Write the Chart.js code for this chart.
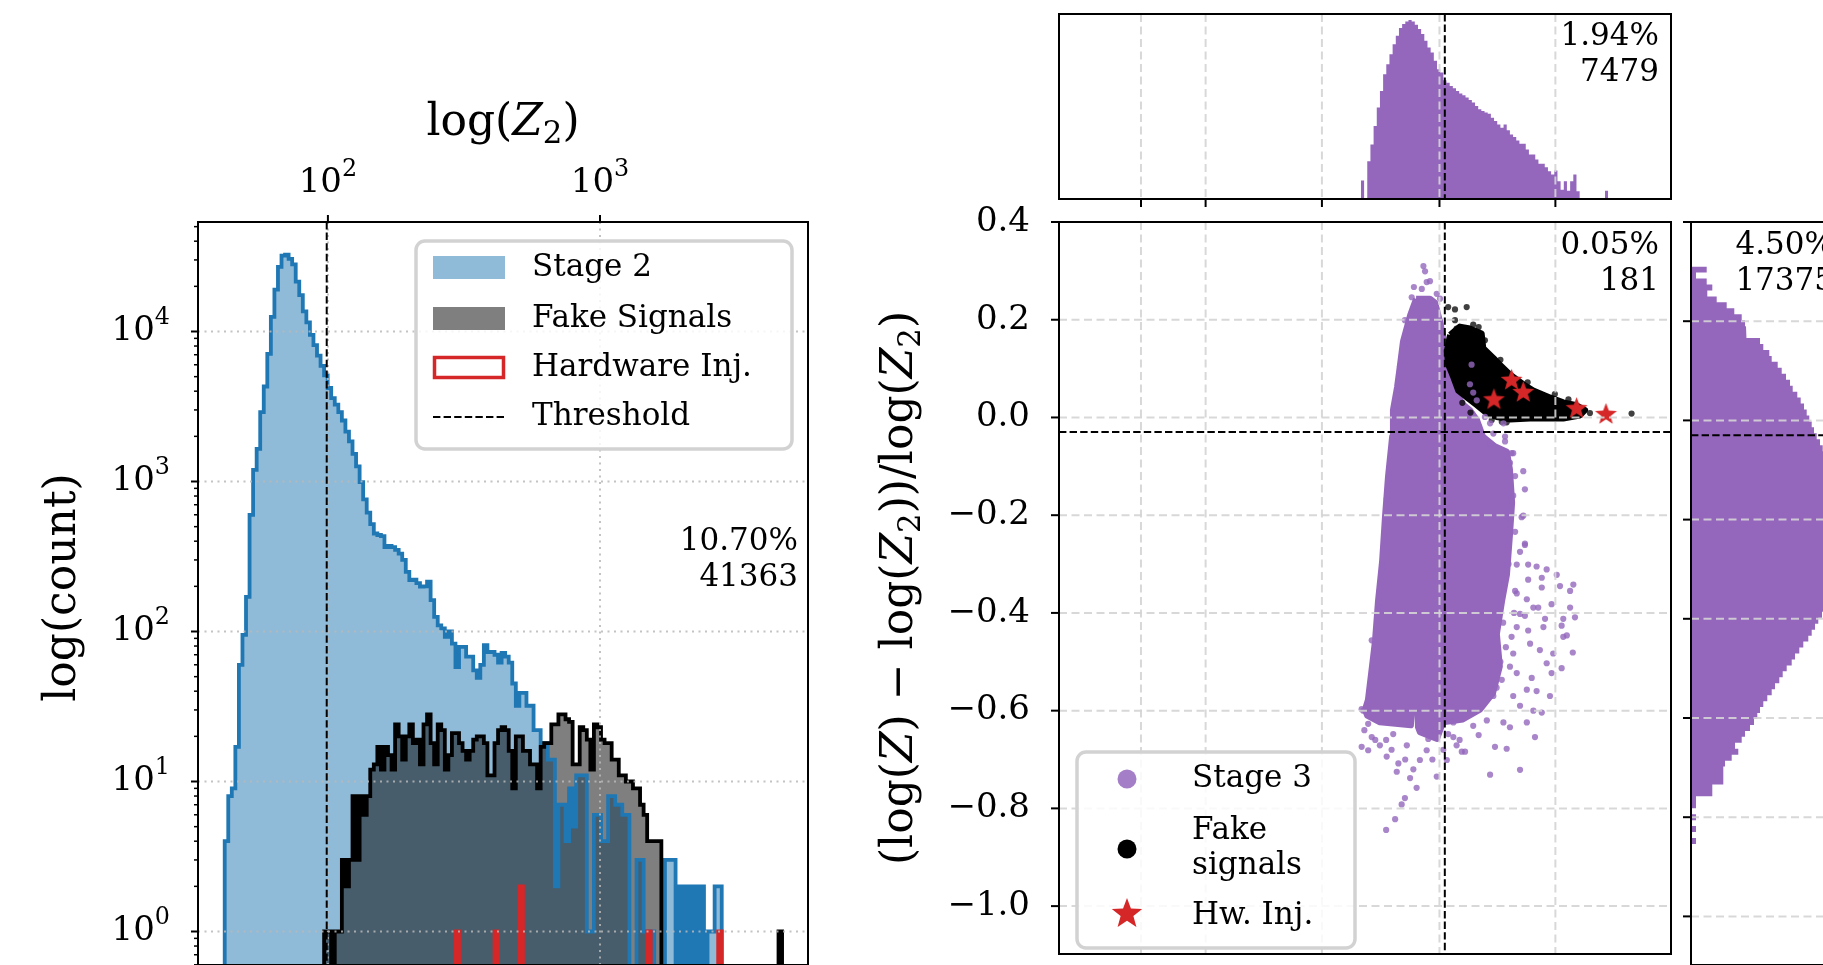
<!DOCTYPE html>
<html>
<head>
<meta charset="utf-8">
<script src="https://cdn.jsdelivr.net/npm/chart.js@4.4.1/dist/chart.umd.min.js"></script>
<style>
  html, body { margin: 0; padding: 0; background: #fff; overflow: hidden; }
  canvas { position: absolute; left: 0; top: 0; }
</style>
</head>
<body>
<canvas id="hist" width="1823" height="965"></canvas>
<canvas id="top" width="1823" height="965"></canvas>
<canvas id="main" width="1823" height="965"></canvas>
<canvas id="side" width="1900" height="965"></canvas>
<script>
// ---------------- data ----------------
const threshold = 99;          // log(Z2) cut
const ratioThreshold = -0.03;  // (logZ - logZ2)/logZ2 cut

// left panel: log-spaced bins of log(Z2)
const binStart = 1.62073;      // log10 of first bin edge
const binWidth = 0.013047;     // bin width in log10
const stage2Counts = [
  4, 8, 9, 17, 60, 95, 170, 600, 1194, 1650,
  2900, 4300, 7100, 12500, 19000, 27000, 32000, 32500, 30500, 28000,
  21500, 17500, 13600, 11500, 9500, 8100, 6900, 5900, 5100, 4200,
  3600, 3250, 2900, 2550, 2150, 1850, 1530, 1260, 990, 760,
  620, 520, 450, 440, 432, 366, 372, 365, 350, 330,
  300, 250, 220, 222, 210, 199, 200, 215, 162, 125,
  110, 105, 92, 100, 83, 58, 79, 79, 68, 68,
  55, 49, 60, 81, 73, 73, 70, 62, 72, 68,
  62, 45, 32, 39, 39, 32, 32, 22, 22, 18,
  18, 14, 14, 2, 7, 7, 4, 9, 5, 11,
  11, 11, 1, 1, 6, 6, 4, 4, 8, 8,
  7, 7, 6, 6, 0, 0, 3, 3, 1, 1,
  1, 0, 0, 0, 3, 3, 3, 0, 2, 0,
  2, 0, 2, 0, 2, 0, 1, 1, 2, 2
];
const fakeCounts = [
  0, 0, 0, 0, 0, 0, 0, 0, 0, 0,
  0, 0, 0, 0, 0, 0, 0, 0, 0, 0,
  0, 0, 0, 0, 0, 0, 0, 0, 1, 1,
  0, 1, 1, 3, 2, 3, 8, 3, 8, 6,
  8, 12, 13, 17, 12, 17, 15, 12, 24, 20,
  14, 20, 24, 18, 19, 13, 24, 28, 18, 13,
  24, 22, 12, 15, 21, 21, 18, 16, 14, 16,
  19, 20, 20, 18, 11, 11, 18, 22, 23, 22,
  16, 9, 20, 20, 16, 16, 13, 13, 9, 17,
  18, 18, 24, 24, 28, 28, 26, 25, 13, 13,
  23, 22, 19, 12, 24, 23, 19, 18, 18, 14,
  14, 11, 11, 10, 10, 9, 9, 7, 6, 4,
  4, 4, 4, 0, 0, 0, 0, 0, 0, 0,
  0, 0, 0, 0, 0, 0, 0, 0, 0, 0,
  0, 0, 0, 0, 0, 0, 0, 0, 0, 0,
  0, 0, 0, 0, 0, 0, 1
];
const hwBins = [65, 76, 83, 119, 139];
const hwCounts = [1, 1, 2, 1, 1];
const histXTicks = [100, 1000];
const histYTicks = [1, 10, 100, 1000, 10000];
const histStats = ['10.70%', '41363'];

// right panels: x is log10 log(Z2)
const topBinStart = 1.6873;
const topBinWidth = 0.01165;
const stage3TopCounts = [
  500, 0, 1020, 1475, 1970, 2470, 2920, 3370, 3645, 3915,
  4185, 4410, 4620, 4730, 4800, 4835, 4800, 4710, 4595, 4460,
  4275, 4095, 3960, 3735, 3510, 3420, 3210, 3145, 3055, 2995,
  2920, 2850, 2805, 2740, 2675, 2605, 2515, 2425, 2380, 2335,
  2305, 2195, 2105, 2015, 1925, 2015, 1855, 1745, 1675, 1580,
  1490, 1490, 1340, 1205, 1205, 1065, 950, 950, 860, 750,
  660, 770, 480, 250, 480, 225, 480, 660, 210, 0,
  0, 0, 0, 0, 0, 0, 0, 225
];
const sideBinTop = 0.310;
const sideBinHeight = 0.012;
const stage3SideCounts = [
  157, 50, 157, 213, 163, 257, 357, 433, 507, 540,
  550, 557, 690, 723, 783, 807, 867, 907, 950, 990,
  1017, 1063, 1097, 1130, 1157, 1183, 1207, 1230, 1257, 1290,
  1317, 1340, 1360, 1380, 1400, 1415, 1430, 1440, 1450, 1460,
  1468, 1474, 1478, 1480, 1480, 1478, 1474, 1468, 1460, 1450,
  1440, 1428, 1415, 1400, 1390, 1375, 1360, 1345, 1310, 1273,
  1240, 1207, 1173, 1123, 1083, 1040, 1007, 957, 917, 883,
  840, 807, 763, 723, 690, 663, 630, 590, 540, 507,
  440, 473, 407, 340, 323, 323, 323, 213, 213, 50,
  50, 0, 50, 0, 50, 0, 50
];
const gridX = [0.879, 1.1165, 1.544, 1.976, 2.402];
const ratioTicks = [0.4, 0.2, 0.0, -0.2, -0.4, -0.6, -0.8, -1.0];
const ratioLabels = ['0.4', '0.2', '0.0', '\u22120.2', '\u22120.4', '\u22120.6', '\u22120.8', '\u22121.0'];

// dense part of the Stage 3 cloud (outline) and the scattered points around it
const stage3Core = [
  [1.890, 0.243], [1.941, 0.243], [1.960, 0.235], [1.978, 0.197], [2.003, 0.129], [2.026, 0.062],
  [2.062, 0.027], [2.088, 0.015], [2.114, -0.005], [2.136, -0.039], [2.180, -0.059], [2.224, -0.070],
  [2.235, -0.106], [2.243, -0.174], [2.235, -0.241], [2.224, -0.322], [2.206, -0.376], [2.187, -0.443],
  [2.198, -0.509], [2.173, -0.564], [2.125, -0.598], [2.062, -0.618], [1.989, -0.624], [1.967, -0.658],
  [1.904, -0.644], [1.897, -0.634], [1.893, -0.564], [1.879, -0.564], [1.871, -0.630], [1.757, -0.624],
  [1.710, -0.610], [1.702, -0.598], [1.713, -0.578], [1.728, -0.509], [1.739, -0.457], [1.750, -0.376],
  [1.765, -0.295], [1.776, -0.201], [1.787, -0.120], [1.802, -0.039], [1.805, 0.015], [1.820, 0.062],
  [1.831, 0.108], [1.842, 0.156], [1.868, 0.209]
];
const stage3Points = [
  [1.917, 0.310], [1.923, 0.299], [1.941, 0.279], [1.929, 0.277], [1.882, 0.267], [1.911, 0.263],
  [1.874, 0.246], [1.966, 0.253], [1.978, 0.243], [1.953, 0.229], [1.849, 0.199], [1.966, 0.199],
  [1.856, 0.152], [1.831, 0.105], [1.825, 0.058], [1.813, 0.018], [2.094, 0.108], [2.088, 0.068],
  [2.100, 0.051], [2.113, 0.035], [2.143, 0.001], [2.162, -0.012], [2.211, -0.012], [2.174, -0.033],
  [2.217, -0.039], [2.241, -0.073], [2.162, -0.053], [2.247, -0.073], [2.284, -0.110], [2.290, -0.147],
  [2.278, -0.204], [2.290, -0.258], [2.302, -0.301], [2.333, -0.305], [2.370, -0.311], [2.407, -0.322],
  [2.468, -0.342], [2.456, -0.355], [2.419, -0.345], [2.352, -0.328], [2.352, -0.348], [2.302, -0.332],
  [2.388, -0.382], [2.456, -0.389], [2.474, -0.409], [2.431, -0.412], [2.425, -0.426], [2.444, -0.446],
  [2.431, -0.449], [2.364, -0.412], [2.358, -0.429], [2.321, -0.389], [2.339, -0.389], [2.297, -0.372],
  [2.290, -0.406], [2.302, -0.436], [2.309, -0.463], [2.345, -0.476], [2.394, -0.483], [2.466, -0.481],
  [2.370, -0.503], [2.425, -0.513], [2.388, -0.523], [2.315, -0.533], [2.333, -0.560], [2.382, -0.570],
  [2.297, -0.557], [2.260, -0.523], [2.247, -0.570], [2.272, -0.590], [2.321, -0.600], [2.352, -0.604],
  [2.297, -0.624], [2.235, -0.634], [2.211, -0.624], [2.327, -0.654], [2.180, -0.674], [2.223, -0.678],
  [2.162, -0.731], [2.272, -0.721], [2.100, -0.631], [2.058, -0.684], [2.027, -0.654], [2.003, -0.701],
  [1.966, -0.735], [1.892, -0.758], [1.849, -0.779], [1.837, -0.792], [1.813, -0.822], [1.780, -0.844],
  [1.868, -0.738], [1.819, -0.725], [1.825, -0.708], [1.782, -0.694], [1.757, -0.671], [1.714, -0.681],
  [1.690, -0.674], [1.727, -0.654], [1.714, -0.627], [1.696, -0.600], [1.806, -0.648], [1.856, -0.671],
  [1.904, -0.701], [1.929, -0.681], [1.935, -0.658], [2.039, -0.671], [2.070, -0.684], [2.027, -0.624],
  [2.100, -0.600], [2.008, -0.648], [2.174, -0.570], [2.186, -0.553], [2.205, -0.537], [2.235, -0.510],
  [2.247, -0.483], [2.241, -0.449], [2.260, -0.429], [2.272, -0.402], [2.254, -0.355], [2.260, -0.301],
  [2.290, -0.261], [2.272, -0.275], [2.254, -0.234], [2.284, -0.201], [2.247, -0.160], [2.254, -0.120],
  [2.235, -0.093], [2.217, -0.049], [1.690, -0.597], [1.727, -0.456], [1.757, -0.389], [1.770, -0.308],
  [1.782, -0.167], [1.700, -0.640], [1.740, -0.660], [1.780, -0.660], [1.800, -0.680], [1.850, -0.700],
  [1.880, -0.720], [1.950, -0.700], [1.990, -0.680], [2.050, -0.660], [2.120, -0.650], [2.150, -0.620],
  [2.220, -0.200], [2.230, -0.300], [2.210, -0.420], [2.220, -0.470], [2.200, -0.500], [2.250, -0.400],
  [2.260, -0.360]
];
const fakeCore = [
  [2.015, 0.169], [2.051, 0.186], [2.088, 0.182], [2.131, 0.172], [2.137, 0.142], [2.174, 0.122],
  [2.198, 0.108], [2.235, 0.088], [2.284, 0.068], [2.321, 0.055], [2.382, 0.041], [2.431, 0.031],
  [2.480, 0.025], [2.511, 0.015], [2.492, 0.004], [2.431, -0.002], [2.370, -0.002], [2.309, -0.002],
  [2.235, -0.004], [2.186, 0.001], [2.150, 0.008], [2.113, 0.025], [2.076, 0.041], [2.045, 0.055],
  [2.027, 0.082], [2.008, 0.108], [2.003, 0.136]
];
const fakePoints = [
  [2.008, 0.226], [2.033, 0.221], [2.076, 0.226], [2.033, 0.199], [2.039, 0.182], [2.682, 0.008],
  [2.205, -0.009], [2.168, -0.005], [2.223, -0.010], [2.143, 0.158], [2.272, 0.062], [2.529, 0.009],
  [2.015, 0.151], [2.100, 0.190], [2.120, 0.185], [2.300, 0.072], [2.400, 0.048], [2.450, 0.037],
  [2.200, 0.118], [2.060, 0.030], [2.090, 0.010]
];
const hwPoints = [[2.241, 0.076], [2.284, 0.051], [2.176, 0.036], [2.480, 0.018], [2.588, 0.006]];
const topStats = ['1.94%', '7479'];
const mainStats = ['0.05%', '181'];
const sideStats = ['4.50%', '17375'];

// ---------------- helpers ----------------
const FONT = '"DejaVu Serif"';
const C_BLUE = '#1f77b4', C_RED = '#d62728', C_PURPLE = '#9467bd';
Chart.defaults.font.family = FONT;

function stepPoints(edges, counts, floor) {
  const pts = [{x: edges[0], y: floor}];
  counts.forEach((c, k) => {
    const v = c > 0 ? c : floor;
    pts.push({x: edges[k], y: v}, {x: edges[k + 1], y: v});
  });
  pts.push({x: edges[counts.length], y: floor});
  return pts;
}
const toXY = arr => arr.map(p => ({x: p[0], y: p[1]}));
const closed = arr => toXY(arr.concat([arr[0]]));

function line(ctx, x1, y1, x2, y2) { ctx.beginPath(); ctx.moveTo(x1, y1); ctx.lineTo(x2, y2); ctx.stroke(); }
function styled(ctx, color, width, dash) { ctx.strokeStyle = color; ctx.lineWidth = width; ctx.setLineDash(dash || []); }

function runFont(r, size) {
  const s = (r.sub || r.sup) ? size * 0.7 : size;
  return (r.it ? 'italic ' : '') + s + 'px ' + FONT;
}
function drawRuns(ctx, runs, x, y, align, size) {
  let w = 0;
  const ws = runs.map(r => { ctx.font = runFont(r, size); const m = ctx.measureText(r.t).width; w += m; return m; });
  let cx = align === 'right' ? x - w : align === 'center' ? x - w / 2 : x;
  ctx.textAlign = 'left';
  ctx.textBaseline = 'middle';
  ctx.fillStyle = '#000';
  runs.forEach((r, i) => {
    ctx.font = runFont(r, size);
    const dy = r.sub ? size * 0.24 : r.sup ? -size * 0.4 : 0;
    ctx.fillText(r.t, cx, y + dy);
    cx += ws[i];
  });
}
function text(ctx, s, x, y, align, size) { drawRuns(ctx, [{t: s}], x, y, align, size); }

function starPath(g, cx, cy, R, r) {
  g.beginPath();
  for (let i = 0; i < 10; i++) {
    const a = -Math.PI / 2 + i * Math.PI / 5;
    const rr = i % 2 ? r : R;
    g.lineTo(cx + rr * Math.cos(a), cy + rr * Math.sin(a));
  }
  g.closePath();
}
function starCanvas(R, color) {
  const c = document.createElement('canvas');
  c.width = c.height = Math.ceil(2 * R + 2);
  const g = c.getContext('2d');
  starPath(g, c.width / 2, c.height / 2, R, R * 0.42);
  g.fillStyle = color;
  g.fill();
  return c;
}
function legendBox(ctx, x, y, w, h) {
  const r = 9;
  ctx.beginPath();
  ctx.moveTo(x + r, y);
  ctx.arcTo(x + w, y, x + w, y + h, r);
  ctx.arcTo(x + w, y + h, x, y + h, r);
  ctx.arcTo(x, y + h, x, y, r);
  ctx.arcTo(x, y, x + w, y, r);
  ctx.closePath();
  ctx.fillStyle = 'rgba(255,255,255,0.85)';
  ctx.fill();
  styled(ctx, '#d2d2d2', 3.5);
  ctx.stroke();
}
function statLines(ctx, lines, x, y) {
  text(ctx, lines[0], x, y, 'right', 31);
  text(ctx, lines[1], x, y + 36, 'right', 31);
}
const GRID_DASH = 'rgba(212,212,212,0.9)';

const base = {
  responsive: false, animation: false, devicePixelRatio: 1, events: [],
  plugins: {legend: {display: false}, tooltip: {enabled: false}},
  elements: {point: {radius: 0}, line: {tension: 0}}
};

// ---------------- left histogram ----------------
const edges = [];
for (let k = 0; k <= 161; k++) edges.push(Math.pow(10, binStart + k * binWidth));
const hwFull = new Array(161).fill(0);
hwBins.forEach((b, i) => { hwFull[b] = hwCounts[i]; });

const histDeco = {
  id: 'histDeco',
  afterDatasetsDraw(chart) {
    const {ctx, chartArea: a, scales: {x, y}} = chart;
    ctx.save();
    styled(ctx, 'rgba(185,185,185,0.85)', 2, [2, 4.5]);
    histYTicks.forEach(v => { const p = y.getPixelForValue(v); line(ctx, a.left, p, a.right, p); });
    histXTicks.forEach(v => { const p = x.getPixelForValue(v); line(ctx, p, a.top, p, a.bottom); });
    styled(ctx, '#000', 2, [7.4, 3.2]);
    const tx = x.getPixelForValue(threshold);
    line(ctx, tx, a.top, tx, a.bottom);
    styled(ctx, '#000', 2);
    ctx.strokeRect(a.left, a.top, a.right - a.left, a.bottom - a.top);
    ctx.restore();
  },
  afterDraw(chart) {
    const {ctx, chartArea: a, scales: {x, y}} = chart;
    ctx.save();
    styled(ctx, '#000', 2);
    histYTicks.forEach(v => { const p = y.getPixelForValue(v); line(ctx, a.left - 7, p, a.left, p); });
    ctx.lineWidth = 1.5;
    for (let d = -1; d <= 4; d++) {
      for (let m = 2; m <= 9; m++) {
        const v = m * Math.pow(10, d);
        if (v > y.min && v < y.max) { const p = y.getPixelForValue(v); line(ctx, a.left - 4, p, a.left, p); }
      }
    }
    ctx.lineWidth = 2;
    histXTicks.forEach(v => { const p = x.getPixelForValue(v); line(ctx, p, a.top - 7, p, a.top); });

    histYTicks.forEach(v => drawRuns(ctx, [{t: '10'}, {t: String(Math.round(Math.log10(v))), sup: true}],
      170, y.getPixelForValue(v), 'right', 34));
    histXTicks.forEach(v => drawRuns(ctx, [{t: '10'}, {t: String(Math.round(Math.log10(v))), sup: true}],
      x.getPixelForValue(v), 183, 'center', 34));
    drawRuns(ctx, [{t: 'log('}, {t: 'Z', it: true}, {t: '2', sub: true}, {t: ')'}], (a.left + a.right) / 2, 124, 'center', 44);
    ctx.save();
    ctx.translate(64, (a.top + a.bottom) / 2 - 6);
    ctx.rotate(-Math.PI / 2);
    text(ctx, 'log(count)', 0, 0, 'center', 44);
    ctx.restore();
    statLines(ctx, histStats, a.right - 10, 542);

    // legend
    legendBox(ctx, 416, 241, 376, 208);
    ctx.fillStyle = 'rgba(31,119,180,0.5)';
    ctx.fillRect(433, 256, 72, 23);
    ctx.fillStyle = 'rgba(0,0,0,0.5)';
    ctx.fillRect(433, 307, 72, 23);
    styled(ctx, C_RED, 3.5);
    ctx.strokeRect(434.5, 357.5, 69, 20);
    styled(ctx, '#000', 2, [7.4, 3.2]);
    line(ctx, 433, 417, 505, 417);
    ctx.setLineDash([]);
    text(ctx, 'Stage 2', 532, 267.5, 'left', 31);
    text(ctx, 'Fake Signals', 532, 318.5, 'left', 31);
    text(ctx, 'Hardware Inj.', 532, 367.5, 'left', 31);
    text(ctx, 'Threshold', 532, 417, 'left', 31);
    ctx.restore();
  }
};

new Chart(document.getElementById('hist'), {
  type: 'line',
  data: {datasets: [
    {data: stepPoints(edges, hwFull, 1e-3), borderColor: C_RED, borderWidth: 3.8, fill: false, order: 0},
    {data: stepPoints(edges, fakeCounts, 1e-3), borderColor: '#000', borderWidth: 3.8, fill: false, order: 1},
    {data: stepPoints(edges, stage2Counts, 1e-3), borderColor: C_BLUE, borderWidth: 3.8, fill: false, order: 2},
    {data: stepPoints(edges, fakeCounts, 1e-3), borderColor: 'transparent', borderWidth: 0,
      backgroundColor: 'rgba(0,0,0,0.5)', fill: 'start', order: 3},
    {data: stepPoints(edges, stage2Counts, 1e-3), borderColor: 'transparent', borderWidth: 0,
      backgroundColor: 'rgba(31,119,180,0.5)', fill: 'start', order: 4}
  ]},
  options: Object.assign({}, base, {
    layout: {padding: {left: 198, top: 222, right: 1823 - 808, bottom: 0}},
    scales: {
      x: {type: 'logarithmic', display: false, min: 33.31, max: 5813},
      y: {type: 'logarithmic', display: false, min: 0.598, max: 53700}
    }
  }),
  plugins: [histDeco]
});

// ---------------- top marginal ----------------
const rightXMin = 0.5777, rightXMax = 2.8269;
const ratioMin = -1.098, ratioMax = 0.4;
const topEdges = [];
for (let j = 0; j <= stage3TopCounts.length; j++) topEdges.push(topBinStart + j * topBinWidth);

new Chart(document.getElementById('top'), {
  type: 'line',
  data: {datasets: [
    {data: stepPoints(topEdges, stage3TopCounts, 0), borderColor: 'transparent', borderWidth: 0,
      backgroundColor: C_PURPLE, fill: 'start'}
  ]},
  options: Object.assign({}, base, {
    layout: {padding: {left: 1059, top: 14, right: 1823 - 1671, bottom: 965 - 199}},
    scales: {
      x: {type: 'linear', display: false, min: rightXMin, max: rightXMax},
      y: {type: 'linear', display: false, min: 0, max: 5000}
    }
  }),
  plugins: [{
    id: 'topDeco',
    afterDatasetsDraw(chart) {
      const {ctx, chartArea: a, scales: {x}} = chart;
      ctx.save();
      styled(ctx, GRID_DASH, 2, [8, 4.5]);
      gridX.forEach(v => { const p = x.getPixelForValue(v); line(ctx, p, a.top, p, a.bottom); });
      styled(ctx, '#000', 2, [7.4, 3.2]);
      const tx = x.getPixelForValue(Math.log10(threshold));
      line(ctx, tx, a.top, tx, a.bottom);
      styled(ctx, '#000', 2);
      ctx.strokeRect(a.left, a.top, a.right - a.left, a.bottom - a.top);
      gridX.forEach(v => { const p = x.getPixelForValue(v); line(ctx, p, a.bottom, p, a.bottom + 8); });
      statLines(ctx, topStats, a.right - 12, 37);
      ctx.restore();
    }
  }]
});

// ---------------- main scatter ----------------
const starImg = starCanvas(11.5, C_RED);
new Chart(document.getElementById('main'), {
  type: 'line',
  data: {datasets: [
    {data: toXY(hwPoints), showLine: false, pointStyle: starImg, pointRadius: 10, order: 0},
    {data: toXY(stage3Points), showLine: false, pointRadius: 3.1, pointBorderWidth: 0,
      pointBackgroundColor: 'rgba(148,103,189,0.8)', order: 1},
    {data: toXY(fakePoints), showLine: false, pointRadius: 3.1, pointBorderWidth: 0,
      pointBackgroundColor: 'rgba(0,0,0,0.75)', order: 2},
    {data: closed(fakeCore), borderColor: '#000', borderWidth: 6, borderJoinStyle: 'round',
      backgroundColor: '#000', fill: 'shape', order: 3},
    {data: closed(stage3Core), borderColor: C_PURPLE, borderWidth: 6, borderJoinStyle: 'round',
      backgroundColor: C_PURPLE, fill: 'shape', order: 4}
  ]},
  options: Object.assign({}, base, {
    layout: {padding: {left: 1059, top: 222, right: 1823 - 1671, bottom: 0}},
    scales: {
      x: {type: 'linear', display: false, min: rightXMin, max: rightXMax},
      y: {type: 'linear', display: false, min: ratioMin, max: ratioMax}
    }
  }),
  plugins: [{
    id: 'mainDeco',
    afterDatasetsDraw(chart) {
      const {ctx, chartArea: a, scales: {x, y}} = chart;
      ctx.save();
      styled(ctx, GRID_DASH, 2, [8, 4.5]);
      gridX.forEach(v => { const p = x.getPixelForValue(v); line(ctx, p, a.top, p, a.bottom); });
      ratioTicks.forEach(v => { const p = y.getPixelForValue(v); line(ctx, a.left, p, a.right, p); });
      styled(ctx, '#000', 2, [7.4, 3.2]);
      const tx = x.getPixelForValue(Math.log10(threshold));
      line(ctx, tx, a.top, tx, a.bottom);
      const ty = y.getPixelForValue(ratioThreshold);
      line(ctx, a.left, ty, a.right, ty);
      styled(ctx, '#000', 2);
      ctx.strokeRect(a.left, a.top, a.right - a.left, a.bottom - a.top);
      ctx.restore();
    },
    afterDraw(chart) {
      const {ctx, chartArea: a, scales: {y}} = chart;
      ctx.save();
      styled(ctx, '#000', 2);
      ratioTicks.forEach((v, i) => {
        const p = y.getPixelForValue(v);
        line(ctx, a.left - 8, p, a.left, p);
        text(ctx, ratioLabels[i], 1030, p, 'right', 34);
      });
      ctx.save();
      ctx.translate(901, (a.top + a.bottom) / 2);
      ctx.rotate(-Math.PI / 2);
      drawRuns(ctx, [{t: '(log('}, {t: 'Z', it: true}, {t: ') \u2212 log('}, {t: 'Z', it: true}, {t: '2', sub: true},
        {t: '))/log('}, {t: 'Z', it: true}, {t: '2', sub: true}, {t: ')'}], 0, 0, 'center', 44);
      ctx.restore();
      statLines(ctx, mainStats, a.right - 12, 246);

      legendBox(ctx, 1077, 752, 278, 196);
      ctx.fillStyle = 'rgba(148,103,189,0.85)';
      ctx.beginPath(); ctx.arc(1127, 779, 9.5, 0, 2 * Math.PI); ctx.fill();
      ctx.fillStyle = '#000';
      ctx.beginPath(); ctx.arc(1127, 849, 9.5, 0, 2 * Math.PI); ctx.fill();
      starPath(ctx, 1127, 914, 16, 6.7);
      ctx.fillStyle = C_RED; ctx.fill();
      text(ctx, 'Stage 3', 1192, 779, 'left', 31);
      text(ctx, 'Fake', 1192, 831, 'left', 31);
      text(ctx, 'signals', 1192, 866, 'left', 31);
      text(ctx, 'Hw. Inj.', 1192, 916, 'left', 31);
      ctx.restore();
    }
  }]
});

// ---------------- right marginal ----------------
const sidePts = [{x: 0, y: sideBinTop}];
stage3SideCounts.forEach((c, i) => {
  const t = sideBinTop - i * sideBinHeight;
  sidePts.push({x: c, y: t}, {x: c, y: t - sideBinHeight});
});
sidePts.push({x: 0, y: sideBinTop - stage3SideCounts.length * sideBinHeight});

new Chart(document.getElementById('side'), {
  type: 'line',
  data: {datasets: [
    {data: sidePts, borderColor: 'transparent', borderWidth: 0, backgroundColor: C_PURPLE, fill: 'shape'}
  ]},
  options: Object.assign({}, base, {
    layout: {padding: {left: 1691, top: 222, right: 1900 - 1846, bottom: 0}},
    scales: {
      x: {type: 'linear', display: false, min: 0, max: 1550},
      y: {type: 'linear', display: false, min: ratioMin, max: ratioMax}
    }
  }),
  plugins: [{
    id: 'sideDeco',
    afterDatasetsDraw(chart) {
      const {ctx, chartArea: a, scales: {y}} = chart;
      ctx.save();
      styled(ctx, GRID_DASH, 2, [8, 4.5]);
      ratioTicks.forEach(v => { const p = y.getPixelForValue(v); line(ctx, a.left, p, a.right, p); });
      styled(ctx, '#000', 2, [7.4, 3.2]);
      const ty = y.getPixelForValue(ratioThreshold);
      line(ctx, a.left, ty, a.right, ty);
      styled(ctx, '#000', 2);
      ctx.strokeRect(a.left, a.top, a.right - a.left, a.bottom - a.top);
      ratioTicks.forEach(v => { const p = y.getPixelForValue(v); line(ctx, a.left - 8, p, a.left, p); });
      statLines(ctx, sideStats, a.right - 12, 246);
      ctx.restore();
    }
  }]
});
</script>
</body>
</html>
